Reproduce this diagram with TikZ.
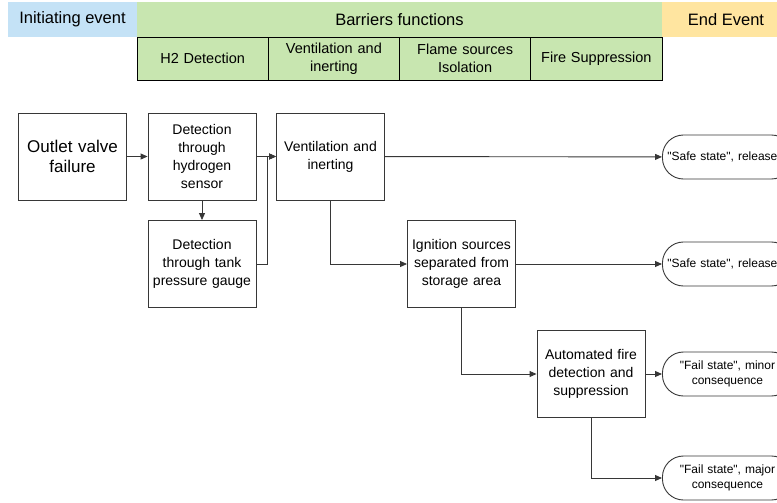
\documentclass[tikz,border=0pt]{standalone}
\usepackage{fontspec}
\setmainfont{Liberation Sans}[Ligatures=TeXOff]
\usetikzlibrary{arrows.meta}

\definecolor{initblue}{RGB}{196,226,246}
\definecolor{barriergreen}{RGB}{200,230,176}
\definecolor{endyellow}{RGB}{255,229,160}
\definecolor{linegray}{RGB}{55,55,55}

\tikzset{
  head/.style={minimum height=35pt, inner sep=0pt, font=\fontsize{16.5}{20}\selectfont},
  cell/.style={draw=black, fill=barriergreen, line width=0.9pt, minimum width=131.25pt,
    minimum height=43pt, text width=125pt, align=center, inner sep=0pt,
    font=\fontsize{14.5}{18}\selectfont},
  box/.style={draw=linegray, line width=0.9pt, minimum width=108pt, minimum height=87pt,
    text width=102pt, align=center, inner sep=0pt, font=\fontsize{14}{18}\selectfont},
  term/.style={draw=linegray, line width=0.9pt, rounded corners=21pt, minimum width=130pt,
    minimum height=44pt, text width=120pt, inner sep=5pt, anchor=west,
    font=\fontsize{12}{15}\selectfont},
  flow/.style={draw=linegray, line width=0.9pt, -{Triangle[length=7pt,width=6pt]}}
}

\begin{document}
\begin{tikzpicture}[x=1pt,y=-1pt]

  \useasboundingbox (0,0) rectangle (777,503);
  \clip (0,0) rectangle (777,503);

  \node[head, fill=initblue, minimum width=129pt] (init) at (72.5,19.5) {Initiating event};
  \node[head, fill=barriergreen, minimum width=525pt] (barr) at (399.5,19.5) {Barriers functions};
  \node[head, fill=endyellow, minimum width=128pt] (endev) at (726,19.5) {End Event};

  \foreach \lbl [count=\i from 0] in {H2 Detection, {Ventilation and\\inerting},
      {Flame sources\\Isolation}, Fire Suppression}
    \node[cell] (cell\i) at (202.625+131.25*\i,58.5) {\lbl};

  \node[box, font=\fontsize{17}{20}\selectfont] (valve) at (72.5,156.5) {Outlet valve\\failure};
  \node[box] (hyd) at (202,156.5) {Detection\\through\\hydrogen\\sensor};
  \node[box] (tank) at (202,264) {Detection\\through tank\\pressure gauge};
  \node[box] (vent) at (330.5,156.5) {Ventilation and\\inerting};
  \node[box] (ign) at (461.5,264) {Ignition sources\\separated from\\storage area};
  \node[box] (fire) at (591,374) {Automated fire\\detection and\\suppression};

  \node[term, align=left] (safeA) at (662,157) {"Safe state", release};
  \node[term, align=left] (safeB) at (662,264) {"Safe state", release};
  \node[term, align=center] (minor) at (662,374) {"Fail state", minor\\consequence};
  \node[term, align=center] (major) at (662,478) {"Fail state", major\\consequence};

  \coordinate (join) at (267,156.5);

  \draw[flow] (valve) -- (hyd);
  \draw[flow] (hyd) -- (tank);
  \draw[flow] (hyd) -- (vent);
  \draw[flow] (tank.east) -| (join) -- (vent.west);
  \draw[flow] (vent) -- (safeA);
  \draw[flow] (vent.south) |- (ign.west);
  \draw[flow] (ign) -- (safeB);
  \draw[flow] (ign.south) |- (fire.west);
  \draw[flow] (fire) -- (minor);
  \draw[flow] (fire.south) |- (major.west);

\end{tikzpicture}
\end{document}
